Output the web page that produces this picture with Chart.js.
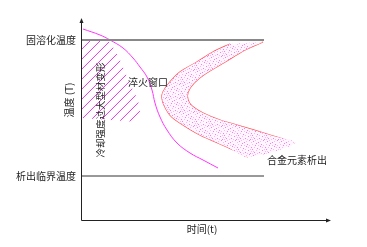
<!DOCTYPE html>
<html>
<head>
<meta charset="utf-8">
<script src="https://cdn.jsdelivr.net/npm/chart.js@4.4.0/dist/chart.umd.min.js"></script>
<style>
  body { margin: 0; background: #fff; }
  #wrap { width: 367px; height: 247px; }
</style>
</head>
<body>
<div id="wrap"><canvas id="myChart" width="367" height="247"></canvas></div>
<script>
// 坐标单位: 时间 0~248, 温度 0~200
const solutionTemp = 180;     // 固溶化温度
const criticalTemp = 44;      // 析出临界温度
const lineEnd = 183;

// 冷却曲线
const coolX = [2, 19, 29, 42, 52, 59, 66, 71, 74, 79, 86, 96, 109, 122, 137];
const coolY = [191, 185, 180, 172, 162, 153, 143, 130, 117, 103, 90, 77, 67, 60, 52];

// 合金元素析出 C 曲线 (外侧 / 内侧)
const outerX = [149, 132, 116, 99, 89, 82, 81, 83, 89, 99, 119, 146, 167];
const outerY = [176, 168, 158, 148, 138, 128, 122, 115, 105, 97, 85, 73, 63];
const innerX = [182, 164, 144, 124, 113, 107, 107, 111, 122, 139, 156, 189, 214];
const innerY = [178, 170, 158, 146, 137, 128, 120, 114, 107, 100, 95, 85, 77];

// 冷却强度过大区域
const hatchX = [0, 27, 34, 39, 44, 51, 57, 59, 57, 0];
const hatchY = [180, 180, 170, 160, 148, 132, 120, 108, 98, 102];

const toPts = (xs, ys) => xs.map((x, i) => ({ x: x, y: ys[i] }));
const bandPts = toPts(outerX, outerY).concat(toPts(innerX, innerY).reverse());

// 点状填充
function dotPattern() {
    const c = document.createElement('canvas');
    c.width = 14; c.height = 14;
    const g = c.getContext('2d');
    g.fillStyle = '#fff6fe';
    g.fillRect(0, 0, 14, 14);
    const dark = [[1,1],[6,2],[11,0],[3,5],[9,4],[13,7],[0,9],[5,8],[10,10],[2,12],[7,12],[12,13],[8,6],[4,3]];
    const light = [[3,0],[8,1],[13,2],[0,4],[6,5],[11,5],[2,7],[7,9],[12,9],[4,10],[9,13],[0,13],[5,13],[10,7],[1,11],[13,11]];
    g.fillStyle = '#ff77ff';
    dark.forEach(d => g.fillRect(d[0], d[1], 1, 1));
    g.fillStyle = '#ffb8ff';
    light.forEach(d => g.fillRect(d[0], d[1], 1, 1));
    return g.createPattern(c, 'repeat');
}

// 斜线区域
const hatchPlugin = {
    id: 'hatch',
    beforeDatasetsDraw(chart) {
        const { ctx, scales: { x, y } } = chart;
        ctx.save();
        ctx.beginPath();
        hatchX.forEach((v, i) => {
            const px = x.getPixelForValue(v), py = y.getPixelForValue(hatchY[i]);
            if (i === 0) ctx.moveTo(px, py); else ctx.lineTo(px, py);
        });
        ctx.closePath();
        ctx.clip();
        ctx.strokeStyle = '#ff33ff';
        ctx.lineWidth = 1;
        ctx.beginPath();
        const top = y.getPixelForValue(200), bottom = y.getPixelForValue(80);
        const left = x.getPixelForValue(0);
        for (let k = top; k < bottom + 80; k += 10) {
            ctx.moveTo(left, k);
            ctx.lineTo(left + 80, k - 80);
        }
        ctx.stroke();
        ctx.restore();
    }
};

const labelsPlugin = {
    id: 'labels',
    afterDraw(chart) {
        const { ctx, chartArea: a, scales: { x, y } } = chart;
        ctx.save();
        // 坐标轴
        ctx.strokeStyle = '#222';
        ctx.lineWidth = 1;
        ctx.beginPath();
        ctx.moveTo(a.left + 0.5, a.top);
        ctx.lineTo(a.left + 0.5, a.bottom + 0.5);
        ctx.lineTo(a.right, a.bottom + 0.5);
        ctx.stroke();
        ctx.fillStyle = '#222';
        ctx.beginPath();
        ctx.moveTo(a.left + 0.5, a.top - 2);
        ctx.lineTo(a.left - 1.5, a.top + 3);
        ctx.lineTo(a.left + 2.5, a.top + 3);
        ctx.fill();
        ctx.beginPath();
        ctx.moveTo(a.right + 2, a.bottom + 0.5);
        ctx.lineTo(a.right - 3, a.bottom - 1.5);
        ctx.lineTo(a.right - 3, a.bottom + 2.5);
        ctx.fill();

        ctx.font = '10px "Noto Sans CJK SC"';
        ctx.fillStyle = '#222';
        ctx.textBaseline = 'middle';
        ctx.textAlign = 'right';
        ctx.fillText('固溶化温度', x.getPixelForValue(0) - 5, y.getPixelForValue(solutionTemp));
        ctx.fillText('析出临界温度', x.getPixelForValue(0) - 5, y.getPixelForValue(criticalTemp));
        ctx.textAlign = 'left';
        ctx.fillText('淬火窗口', x.getPixelForValue(47), y.getPixelForValue(138));
        ctx.fillText('合金元素析出', x.getPixelForValue(186), y.getPixelForValue(60));
        ctx.textAlign = 'center';
        ctx.fillText('时间(t)', x.getPixelForValue(121), y.getPixelForValue(-9));

        ctx.save();
        ctx.translate(x.getPixelForValue(-12), y.getPixelForValue(120));
        ctx.rotate(-Math.PI / 2);
        ctx.fillText('温度 (T)', 0, 0);
        ctx.restore();

        ctx.save();
        ctx.translate(x.getPixelForValue(19), y.getPixelForValue(110));
        ctx.rotate(-Math.PI / 2);
        ctx.font = '9.5px "Noto Sans CJK SC"';
        ctx.fillText('冷却强度过大型材变形', 0, 0);
        ctx.restore();
        ctx.restore();
    }
};

const ctx = document.getElementById('myChart').getContext('2d');
const myChart = new Chart(ctx, {
    type: 'scatter',
    data: {
        datasets: [{
            data: bandPts,
            showLine: true,
            borderWidth: 0,
            borderColor: 'rgba(0,0,0,0)',
            backgroundColor: dotPattern(),
            fill: 'shape',
            tension: 0.3,
            pointRadius: 0
        }, {
            data: [{ x: 0, y: solutionTemp }, { x: lineEnd, y: solutionTemp }],
            showLine: true,
            borderColor: '#888',
            borderWidth: 2,
            pointRadius: 0
        }, {
            data: [{ x: 0, y: criticalTemp }, { x: lineEnd, y: criticalTemp }],
            showLine: true,
            borderColor: '#333',
            borderWidth: 1,
            pointRadius: 0
        }, {
            data: toPts(coolX, coolY),
            showLine: true,
            borderColor: '#ff33ff',
            borderWidth: 1,
            tension: 0.4,
            pointRadius: 0
        }, {
            data: toPts(outerX, outerY),
            showLine: true,
            borderColor: '#ff5555',
            borderWidth: 1.3,
            tension: 0.3,
            pointRadius: 0
        }, {
            data: toPts(innerX, innerY),
            showLine: true,
            borderColor: '#ff5555',
            borderWidth: 1.3,
            tension: 0.3,
            pointRadius: 0
        }]
    },
    options: {
        responsive: false,
        animation: false,
        layout: { padding: { left: 81, top: 20, right: 38, bottom: 27 } },
        plugins: { legend: { display: false }, tooltip: { enabled: false } },
        scales: {
            x: { type: 'linear', min: 0, max: 248, display: false },
            y: { type: 'linear', min: 0, max: 200, display: false }
        }
    },
    plugins: [hatchPlugin, labelsPlugin]
});
</script>
</body>
</html>
